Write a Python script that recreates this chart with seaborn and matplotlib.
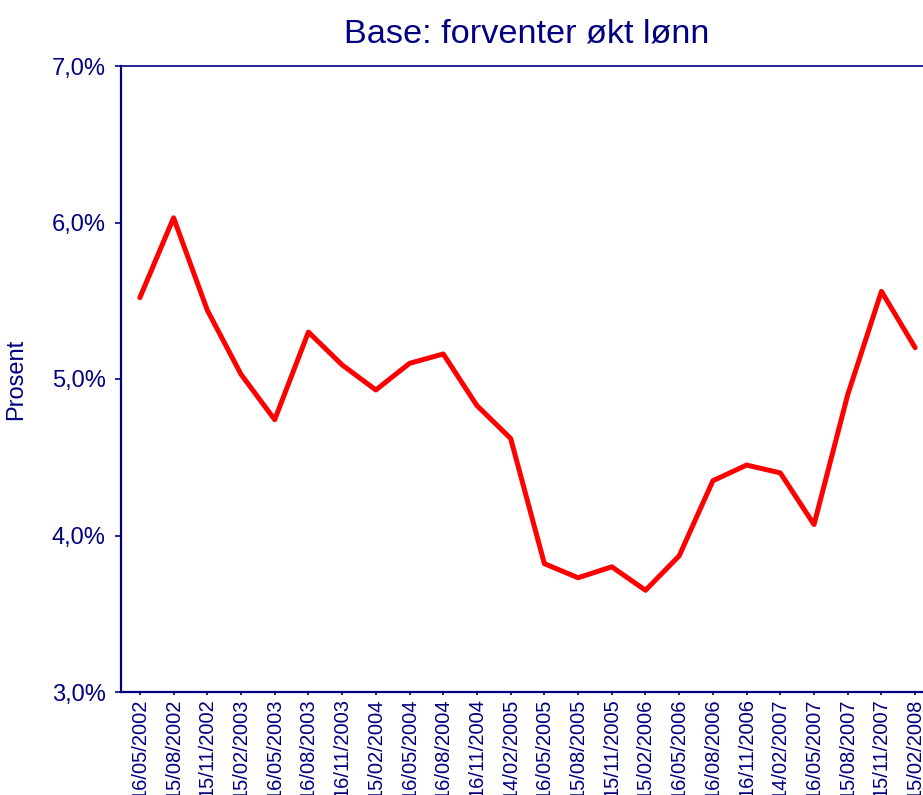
import matplotlib
matplotlib.use("Agg")
import matplotlib.pyplot as plt
import seaborn as sns
import pandas as pd
from matplotlib.ticker import FuncFormatter

dates = ["16/05/2002", "15/08/2002", "15/11/2002", "15/02/2003", "16/05/2003",
         "16/08/2003", "16/11/2003", "15/02/2004", "16/05/2004", "16/08/2004",
         "16/11/2004", "14/02/2005", "16/05/2005", "15/08/2005", "15/11/2005",
         "15/02/2006", "16/05/2006", "16/08/2006", "16/11/2006", "14/02/2007",
         "16/05/2007", "15/08/2007", "15/11/2007", "15/02/2008"]
values = [5.52, 6.03, 5.44, 5.03, 4.74, 5.30, 5.09, 4.93, 5.10, 5.16,
          4.83, 4.62, 3.82, 3.73, 3.80, 3.65, 3.87, 4.35, 4.45, 4.40,
          4.07, 4.90, 5.56, 5.20]
yticks = [3.0, 4.0, 5.0, 6.0, 7.0]

navy = "#000080"

sns.set_theme(style="white")
plt.rcParams["font.family"] = ["Liberation Sans", "DejaVu Sans"]

df = pd.DataFrame({"x": range(len(dates)), "v": values})

fig = plt.figure(figsize=(9.23, 7.95), dpi=100)
ax = fig.add_axes([121 / 923, 103 / 795, (932 - 121) / 923, (692 - 66) / 795])

sns.lineplot(data=df, x="x", y="v", ax=ax, color="#FF0000", linewidth=3.6,
             solid_capstyle="round", solid_joinstyle="round", sort=False)

ax.set_xlim(-0.56, 23.5)
ax.set_ylim(3.0, 7.0)
ax.set_xticks(range(len(dates)))
ax.set_xticklabels(dates, rotation=90, fontsize=14.5, color=navy)
ax.set_yticks(yticks)
ax.yaxis.set_major_formatter(FuncFormatter(lambda v, p: f"{v:.1f}%".replace(".", ",")))
ax.tick_params(axis="y", labelsize=17, labelcolor=navy, colors=navy,
               direction="out", length=4, width=1.2, pad=7, left=True)
ax.tick_params(axis="x", colors=navy, labelcolor=navy, direction="out",
               length=2.5, width=1.2, pad=2, bottom=True)

ax.set_xlabel("")
ax.set_ylabel("Prosent", fontsize=17, color=navy)
ax.yaxis.set_label_coords(-0.116, 0.5)

ax.set_title("Base: forventer økt lønn", fontsize=24.7, color=navy, pad=17)

for side in ["left", "bottom"]:
    ax.spines[side].set_color(navy)
    ax.spines[side].set_linewidth(1.6)
ax.spines["top"].set_color(navy)
ax.spines["top"].set_linewidth(1.2)
ax.spines["right"].set_visible(False)
ax.grid(False)

fig.savefig("out.png", dpi=100)
